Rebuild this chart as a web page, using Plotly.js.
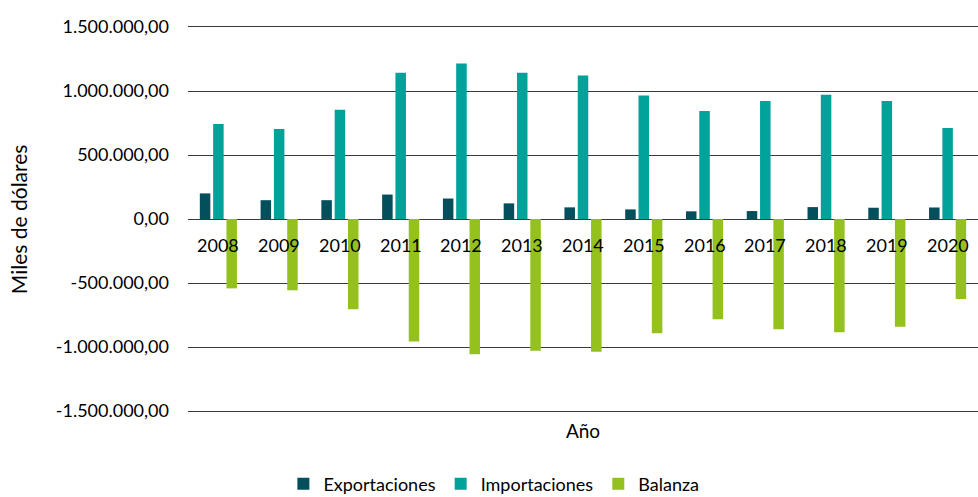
<!DOCTYPE html>
<html><head><meta charset="utf-8">
<script src="https://cdn.plot.ly/plotly-3.0.1.min.js"></script>
<style>html,body{margin:0;padding:0;background:#fff}#chart{width:978px;height:497px}</style>
</head><body><div id="chart"></div>
<script>
const years = ['2008','2009','2010','2011','2012','2013','2014','2015','2016','2017','2018','2019','2020'];
const exportaciones = [200000,147000,147000,191000,160000,122000,91000,75000,60000,62000,93000,88000,90000];
const importaciones = [742000,703000,853000,1142000,1215000,1142000,1122000,964000,843000,922000,971000,922000,711000];
const balanza = [-542000,-557000,-706000,-958000,-1057000,-1029000,-1037000,-893000,-784000,-862000,-885000,-841000,-625000];
const yTickVals = [1500000,1000000,500000,0,-500000,-1000000,-1500000];
const yTickText = ['1.500.000,00','1.000.000,00','500.000,00','0,00','-500.000,00','-1.000.000,00','-1.500.000,00'];

const FONT = 'Lato, "Open Sans", sans-serif';
const traces = [
  {type:'bar', name:'Exportaciones', x:years, y:exportaciones, marker:{color:'#034f5c'}},
  {type:'bar', name:'Importaciones', x:years, y:importaciones, marker:{color:'#00a29a'}},
  {type:'bar', name:'Balanza', x:years, y:balanza, marker:{color:'#95c11f'}}
];
const annotations = years.map((y, i) => ({
  x:i, y:0, xref:'x', yref:'y', text:y, showarrow:false,
  yanchor:'middle', yshift:-26, font:{family:FONT, size:18, color:'#000'}
}));
annotations.push({
  text:'Miles de dólares', xref:'paper', yref:'paper', x:-0.215, y:0.5,
  textangle:-90, showarrow:false, xanchor:'center', yanchor:'middle',
  font:{family:FONT, size:21, color:'#000'}
});
const layout = {
  width:978, height:497,
  margin:{l:188, r:0, t:27, b:86},
  paper_bgcolor:'#fff', plot_bgcolor:'#fff',
  font:{family:FONT, size:18, color:'#000'},
  barmode:'group', bargap:0.343, bargroupgap:0.21,
  showlegend:true,
  legend:{orientation:'h', xref:'container', yref:'container', x:0.505, y:0.026,
    xanchor:'center', yanchor:'middle', font:{family:FONT, size:18, color:'#000'},
    itemwidth:30, traceorder:'normal'},
  xaxis:{type:'category', categoryarray:years, categoryorder:'array', range:[-0.5, years.length-0.5],
    showticklabels:false, showgrid:false, zeroline:false,
    showline:true, mirror:true, linecolor:'#3a3a3a', linewidth:1, ticks:'',
    title:{text:'Año', standoff:13, font:{family:FONT, size:19, color:'#000'}}, automargin:false},
  yaxis:{range:[-1500000,1500000], tickvals:yTickVals, ticktext:yTickText,
    showgrid:true, gridcolor:'#3a3a3a', gridwidth:1, zeroline:true, zerolinecolor:'#3a3a3a', zerolinewidth:1,
    showline:false, ticks:'', ticklabelstandoff:18, automargin:false,
    tickfont:{family:FONT, size:18, color:'#000'}},
  annotations:annotations
};
Plotly.newPlot('chart', traces, layout, {displayModeBar:false, staticPlot:true});
</script></body></html>
